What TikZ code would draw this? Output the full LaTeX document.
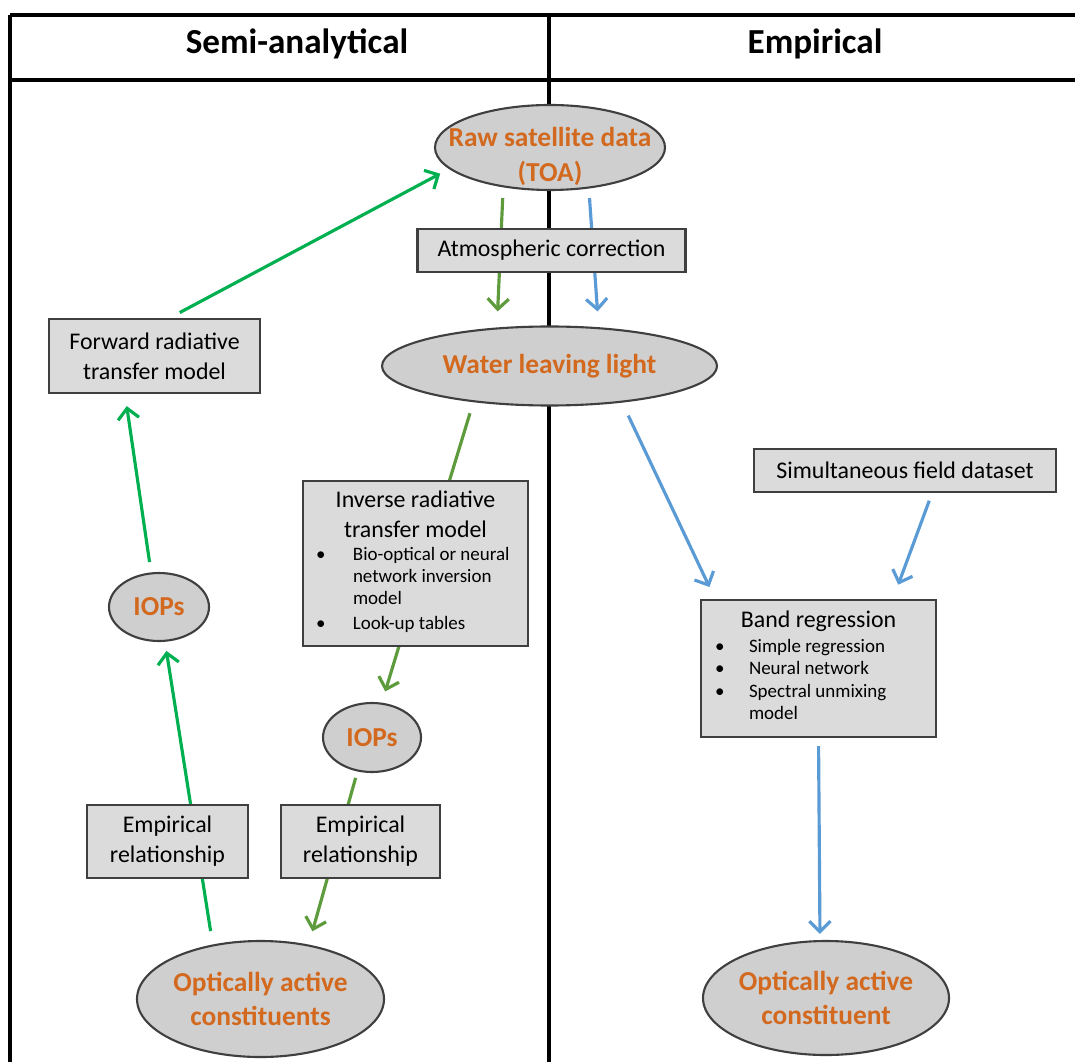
\documentclass[tikz,border=0pt]{standalone}
\usepackage{fontspec}
\setmainfont{Carlito}
\usepackage{tikz}
\usetikzlibrary{shapes,arrows.meta,backgrounds}

\definecolor{ovalgray}{HTML}{CFCFCF}
\definecolor{boxgray}{HTML}{DBDBDB}
\definecolor{rimgray}{HTML}{3F3F3F}
\definecolor{titleorange}{HTML}{D2691E}
\definecolor{fwdgreen}{HTML}{00B050}
\definecolor{invgreen}{HTML}{5E9B3C}
\definecolor{empblue}{HTML}{5B9BD5}

\tikzstyle{blob} = [ellipse,draw=rimgray,line width=0.6pt,fill=ovalgray,inner xsep=-3cm,inner ysep=-2cm,align=center,text=titleorange,font=\bfseries\fontsize{7.8}{9.8}\selectfont]
\tikzstyle{card} = [rectangle,draw=rimgray,line width=0.7pt,fill=boxgray,inner sep=0pt,align=center,font=\fontsize{6.8}{8.5}\selectfont]
\tikzstyle{arrow} = [line width=0.9pt,-{Straight Barb[length=3pt,width=6pt]}]
\tikzstyle{frame} = [line width=1pt,black]
\tikzstyle{heading} = [font=\bfseries\fontsize{10}{12}\selectfont]

\newcommand{\bulletfont}{\fontsize{5.4}{6.3}\selectfont}

\begin{document}
\begin{tikzpicture}

        \useasboundingbox (0,0) rectangle (10.75,10.62);

        % Column titles
        \node[heading] (semi) at (2.97,10.18) {Semi-analytical};
        \node[heading] (empi) at (8.15,10.18) {Empirical};

        % Raw satellite data, shared by both columns
        \node[blob,minimum width=2.30cm,minimum height=0.85cm] (raw) at (5.50,9.145) {\rule{0pt}{10.6pt}Raw satellite data\\(TOA)};

        % Atmospheric correction
        \node[card,minimum width=2.68cm,minimum height=0.43cm] (atm) at (5.515,8.115) {Atmospheric correction};

        % Water leaving light
        \node[blob,minimum width=3.35cm,minimum height=0.79cm] (water) at (5.495,6.96) {Water leaving light};

        % Forward radiative transfer model
        \node[card,minimum width=2.11cm,minimum height=0.74cm] (fwd) at (1.545,7.06) {Forward radiative\\transfer model};

        % IOPs on the forward side
        \node[blob,minimum width=1.00cm,minimum height=0.68cm] (iopL) at (1.59,4.55) {IOPs};

        % Empirical relationship, forward side
        \node[card,minimum width=1.61cm,minimum height=0.73cm] (relL) at (1.675,2.205) {Empirical\\relationship};

        % Optically active constituents
        \node[blob,minimum width=2.47cm,minimum height=1.16cm] (oacL) at (2.605,0.63) {Optically active\\constituents};

        % Inverse radiative transfer model
        \node[card,minimum width=2.25cm,minimum height=1.65cm] (inv) at (4.155,4.985) {Inverse radiative\\transfer model\\[-2pt]
            {\bulletfont\begin{tabular}[t]{@{}p{0.37cm}@{}p{1.62cm}@{}}
            \textbullet & Bio-optical or neural\\
            & network inversion\\
            & model\\[0.8pt]
            \textbullet & Look-up tables
            \end{tabular}}};

        % IOPs on the inverse side
        \node[blob,minimum width=0.98cm,minimum height=0.69cm] (iopM) at (3.72,3.245) {IOPs};

        % Empirical relationship, inverse side
        \node[card,minimum width=1.59cm,minimum height=0.73cm] (relR) at (3.605,2.205) {Empirical\\relationship};

        % Simultaneous field dataset
        \node[card,minimum width=3.02cm,minimum height=0.43cm] (field) at (9.05,5.915) {Simultaneous field dataset};

        % Band regression
        \node[card,minimum width=2.35cm,minimum height=1.37cm] (band) at (8.185,3.935) {Band regression\\[-1.4pt]
            {\bulletfont\begin{tabular}[t]{@{}p{0.34cm}@{}p{1.73cm}@{}}
            \textbullet & Simple regression\\
            \textbullet & Neural network\\
            \textbullet & Spectral unmixing\\
            & model
            \end{tabular}}};

        % Optically active constituent, empirical side
        \node[blob,minimum width=2.46cm,minimum height=1.14cm] (oacR) at (8.26,0.64) {Optically active\\constituent};

        \begin{pgfonlayer}{background}
            % Table frame
            \draw[frame] (0.10,10.47) -- (10.75,10.47);
            \draw[frame] (0.10,9.82) -- (10.75,9.82);
            \draw[frame] (0.10,10.47) -- (0.10,0);
            \draw[frame] (5.49,10.47) -- (5.49,0);

            % Forward path (bright green)
            \draw[arrow,fwdgreen,shorten <=0.11cm,shorten >=0.1cm] ([xshift=0.155cm]fwd.north) -- (raw.192);         % fwd -> raw
            \draw[arrow,fwdgreen,shorten <=0.10cm,shorten >=0.12cm] ([xshift=-0.08cm]iopL.north) -- ([xshift=-0.295cm]fwd.south);   % IOPs -> fwd
            \draw[arrow,fwdgreen,shorten <=0.09cm,shorten >=0.09cm] ([xshift=-0.485cm]oacL.north) -- ([xshift=0.06cm]iopL.south);   % OAC -> IOPs

            % Inverse path (dark green)
            \draw[arrow,invgreen,shorten <=0.07cm,shorten >=0.14cm] ([xshift=-0.47cm]raw.south) -- ([xshift=-0.525cm]water.north);  % raw -> water
            \draw[arrow,invgreen,shorten <=0.07cm,shorten >=0.11cm] ([xshift=-0.775cm]water.south) -- ([xshift=0.10cm]iopM.north);  % water -> IOPs
            \draw[arrow,invgreen,shorten <=0.05cm,shorten >=0.09cm] ([xshift=-0.15cm]iopM.south) -- ([xshift=0.495cm]oacL.north);   % IOPs -> OAC

            % Empirical path (blue)
            \draw[arrow,empblue,shorten <=0.07cm,shorten >=0.14cm] ([xshift=0.39cm]raw.south) -- ([xshift=0.49cm]water.north);      % raw -> water
            \draw[arrow,empblue,shorten <=0.10cm,shorten >=0.13cm] ([xshift=0.745cm]water.south) -- ([xshift=-1.035cm]band.north);  % water -> band
            \draw[arrow,empblue,shorten <=0.08cm,shorten >=0.15cm] ([xshift=0.27cm]field.south) -- ([xshift=0.745cm]band.north);    % field -> band
            \draw[arrow,empblue,shorten <=0.08cm,shorten >=0.06cm] (band.south) -- ([xshift=-0.06cm]oacR.north);                    % band -> OAC
        \end{pgfonlayer}

\end{tikzpicture}
\end{document}
